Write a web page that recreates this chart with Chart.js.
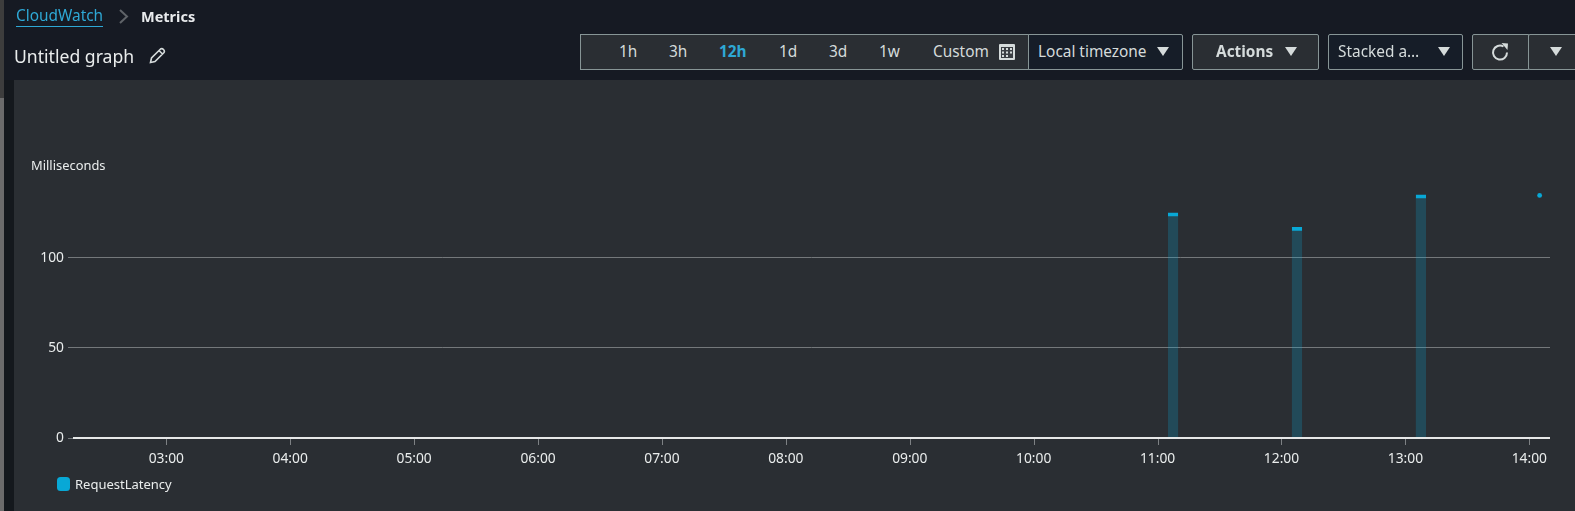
<!DOCTYPE html>
<html><head><meta charset="utf-8">
<script src="https://cdn.jsdelivr.net/npm/chart.js@4"></script>
<style>
html,body{margin:0;padding:0;background:#161a23;width:1575px;height:511px;overflow:hidden;font-family:"Noto Sans",sans-serif;color:#d5dbdb;}
.abs{position:absolute;white-space:nowrap;}
#panel{left:14px;top:80px;width:1561px;height:431px;background:#2a2e33;}
canvas{position:absolute;left:0;top:0;}
.box{position:absolute;box-sizing:border-box;border:1px solid #879596;height:36px;top:34px;font-size:15.4px;line-height:33px;}
.t{position:absolute;top:0;}
.tri{position:absolute;width:0;height:0;border-left:6px solid transparent;border-right:6px solid transparent;border-top:9px solid #d5dbdb;top:12px;}
</style></head><body>
<div class="abs" style="left:0;top:0;width:4px;height:98px;background:#3d3d3d;"></div>
<div class="abs" style="left:0;top:98px;width:4px;height:413px;background:#6b6b6b;"></div>
<div class="abs" style="left:4px;top:80px;width:10px;height:431px;background:#14181d;"></div>
<div class="abs" id="panel"></div>
<canvas id="c" width="1575" height="511"></canvas>

<div class="abs" style="left:16px;top:6px;font-size:15.4px;line-height:20px;color:#2ea8d5;border-bottom:1px solid #2ea8d5;">CloudWatch</div>
<svg class="abs" style="left:118px;top:8px" width="12" height="17"><path d="M2 2 L9 8.5 L2 15" fill="none" stroke="#5f6368" stroke-width="2"/></svg>
<div class="abs" style="left:141px;top:6px;font-size:14.5px;line-height:20px;font-weight:700;color:#e9ebed;">Metrics</div>
<div class="abs" style="left:14px;top:44px;font-size:17.6px;line-height:24px;color:#eaeded;">Untitled graph</div>
<svg class="abs" style="left:149px;top:47px" width="17" height="17" viewBox="0 0 17 17"><path d="M1.5 15.5 L2.5 11 L11.5 2 Q13 1 14.5 2.5 Q16 4 15 5.5 L6 14.5 Z M10 3.5 L13.5 7" fill="none" stroke="#d5dbdb" stroke-width="1.6"/></svg>

<div class="box" style="left:580px;width:449px;background:#2a2e33;border-right:none;">
<span class="t" style="left:38px">1h</span><span class="t" style="left:88px">3h</span>
<span class="t" style="left:138px;color:#2ea8d5;font-weight:700">12h</span>
<span class="t" style="left:198px">1d</span><span class="t" style="left:248px">3d</span>
<span class="t" style="left:298px">1w</span><span class="t" style="left:352px">Custom</span>
<svg class="t" style="left:418px;top:9px" width="16" height="16"><rect x="0" y="0" width="16" height="16" rx="1" fill="#d5dbdb"/><rect x="2" y="3" width="12" height="11" fill="#3a3e43"/><g fill="#d5dbdb"><rect x="3" y="4" width="2" height="2"/><rect x="7" y="4" width="2" height="2"/><rect x="11" y="4" width="2" height="2"/><rect x="3" y="7.5" width="2" height="2"/><rect x="7" y="7.5" width="2" height="2"/><rect x="11" y="7.5" width="2" height="2"/><rect x="3" y="11" width="2" height="2"/><rect x="7" y="11" width="2" height="2"/></g></svg>
</div>
<div class="box" style="left:1028px;width:155px;background:#161d28;border-radius:0 2px 2px 0;">
<span class="t" style="left:9px">Local timezone</span><i class="tri" style="left:128px"></i></div>
<div class="box" style="left:1192px;width:127px;background:#2a2e33;border-radius:2px;font-weight:700;">
<span class="t" style="left:23px">Actions</span><i class="tri" style="left:92px"></i></div>
<div class="box" style="left:1328px;width:135px;background:#161d28;border-radius:2px;">
<span class="t" style="left:9px">Stacked a…</span><i class="tri" style="left:109px"></i></div>
<div class="box" style="left:1472px;width:57px;background:#2a2e33;border-radius:2px 0 0 2px;">
<svg class="t" style="left:17px;top:7px" width="20" height="20" viewBox="0 0 20 20"><path d="M17 10.5 A7 7 0 1 1 13.5 4.5" fill="none" stroke="#d5dbdb" stroke-width="2"/><path d="M11.5 1 L18 1.5 L17.5 8 Z" fill="#d5dbdb"/></svg></div>
<div class="box" style="left:1528px;width:47px;background:#2a2e33;border-right:none;border-radius:2px 0 0 2px;"><i class="tri" style="left:21px"></i></div>

<div class="abs" style="left:31px;top:155.5px;font-size:12.9px;line-height:18px;color:#eaeded;">Milliseconds</div>
<div class="abs" style="left:57px;top:477px;width:13px;height:13.5px;border-radius:3.5px;background:#08a8d6;"></div>
<div class="abs" style="left:75px;top:475px;font-size:13px;line-height:18px;color:#eaeded;">RequestLatency</div>

<script>
// hours of the day (decimal); each bar covers one five-minute period, the dot is the latest sample
const barHours = [11.125, 12.125, 13.125];
const barValues = [125, 117, 135];
const dotHours = [14.0833];
const dotValues = [134.7];
const tickHours = [3,4,5,6,7,8,9,10,11,12,13,14];
const yTicks = [0,50,100];
const seriesName = "RequestLatency";

const toXY = (xs, ys) => xs.map((x,i)=>({x, y:ys[i]}));
new Chart(document.getElementById('c'), {
  type:'bar',
  data:{datasets:[
    {type:'bar',label:seriesName,data:toXY(barHours,barValues),
     backgroundColor:'rgba(8,168,214,0.23)',barThickness:10.3,
     borderColor:'#08a8d6',borderWidth:{top:3,left:0,right:0,bottom:0},borderSkipped:false},
    {type:'scatter',label:seriesName,data:toXY(dotHours,dotValues),
     backgroundColor:'#08a8d6',pointRadius:2.4,pointBorderWidth:0,showLine:false}
  ]},
  options:{
    responsive:false,animation:false,
    layout:{padding:{left:0,right:25,top:0,bottom:0}},
    plugins:{legend:{display:false},tooltip:{enabled:false}},
    scales:{
      x:{type:'linear',min:2.247,max:14.167,offset:false,
        afterBuildTicks(a){a.ticks=tickHours.map(v=>({value:v}));},
        afterFit(a){a.height=73;},
        grid:{display:false,drawTicks:false},
        border:{display:false},
        ticks:{color:'#eaeded',font:{family:'"Noto Sans"',size:13.8},maxRotation:0,autoSkip:false,padding:13,
          callback:v=>String(v).padStart(2,'0')+':00'}},
      y:{type:'linear',min:0,max:236.4,
        afterBuildTicks(a){a.ticks=yTicks.map(v=>({value:v}));},
        afterFit(a){a.width=73;},
        grid:{color:c=>c.tick.value===0?'rgba(0,0,0,0)':'#74787b',tickColor:'#74787b',tickLength:5,lineWidth:1},
        border:{display:false},
        ticks:{color:'#eaeded',font:{family:'"Noto Sans"',size:13.8},padding:4,autoSkip:false}}
    }
  },
  plugins:[{id:'baseline',afterDraw(ch){
    const {ctx,chartArea:a,scales:{x,y}}=ch;ctx.save();
    const y0=Math.round(y.getPixelForValue(0));
    ctx.fillStyle='#e6e8e8';ctx.fillRect(a.left,y0-1,a.right-a.left,2);
    ctx.fillStyle='#7d8184';
    tickHours.forEach(h=>{ctx.fillRect(Math.round(x.getPixelForValue(h)),y0+1,1,6);});
    ctx.restore();}}]
});
</script>
</body></html>
